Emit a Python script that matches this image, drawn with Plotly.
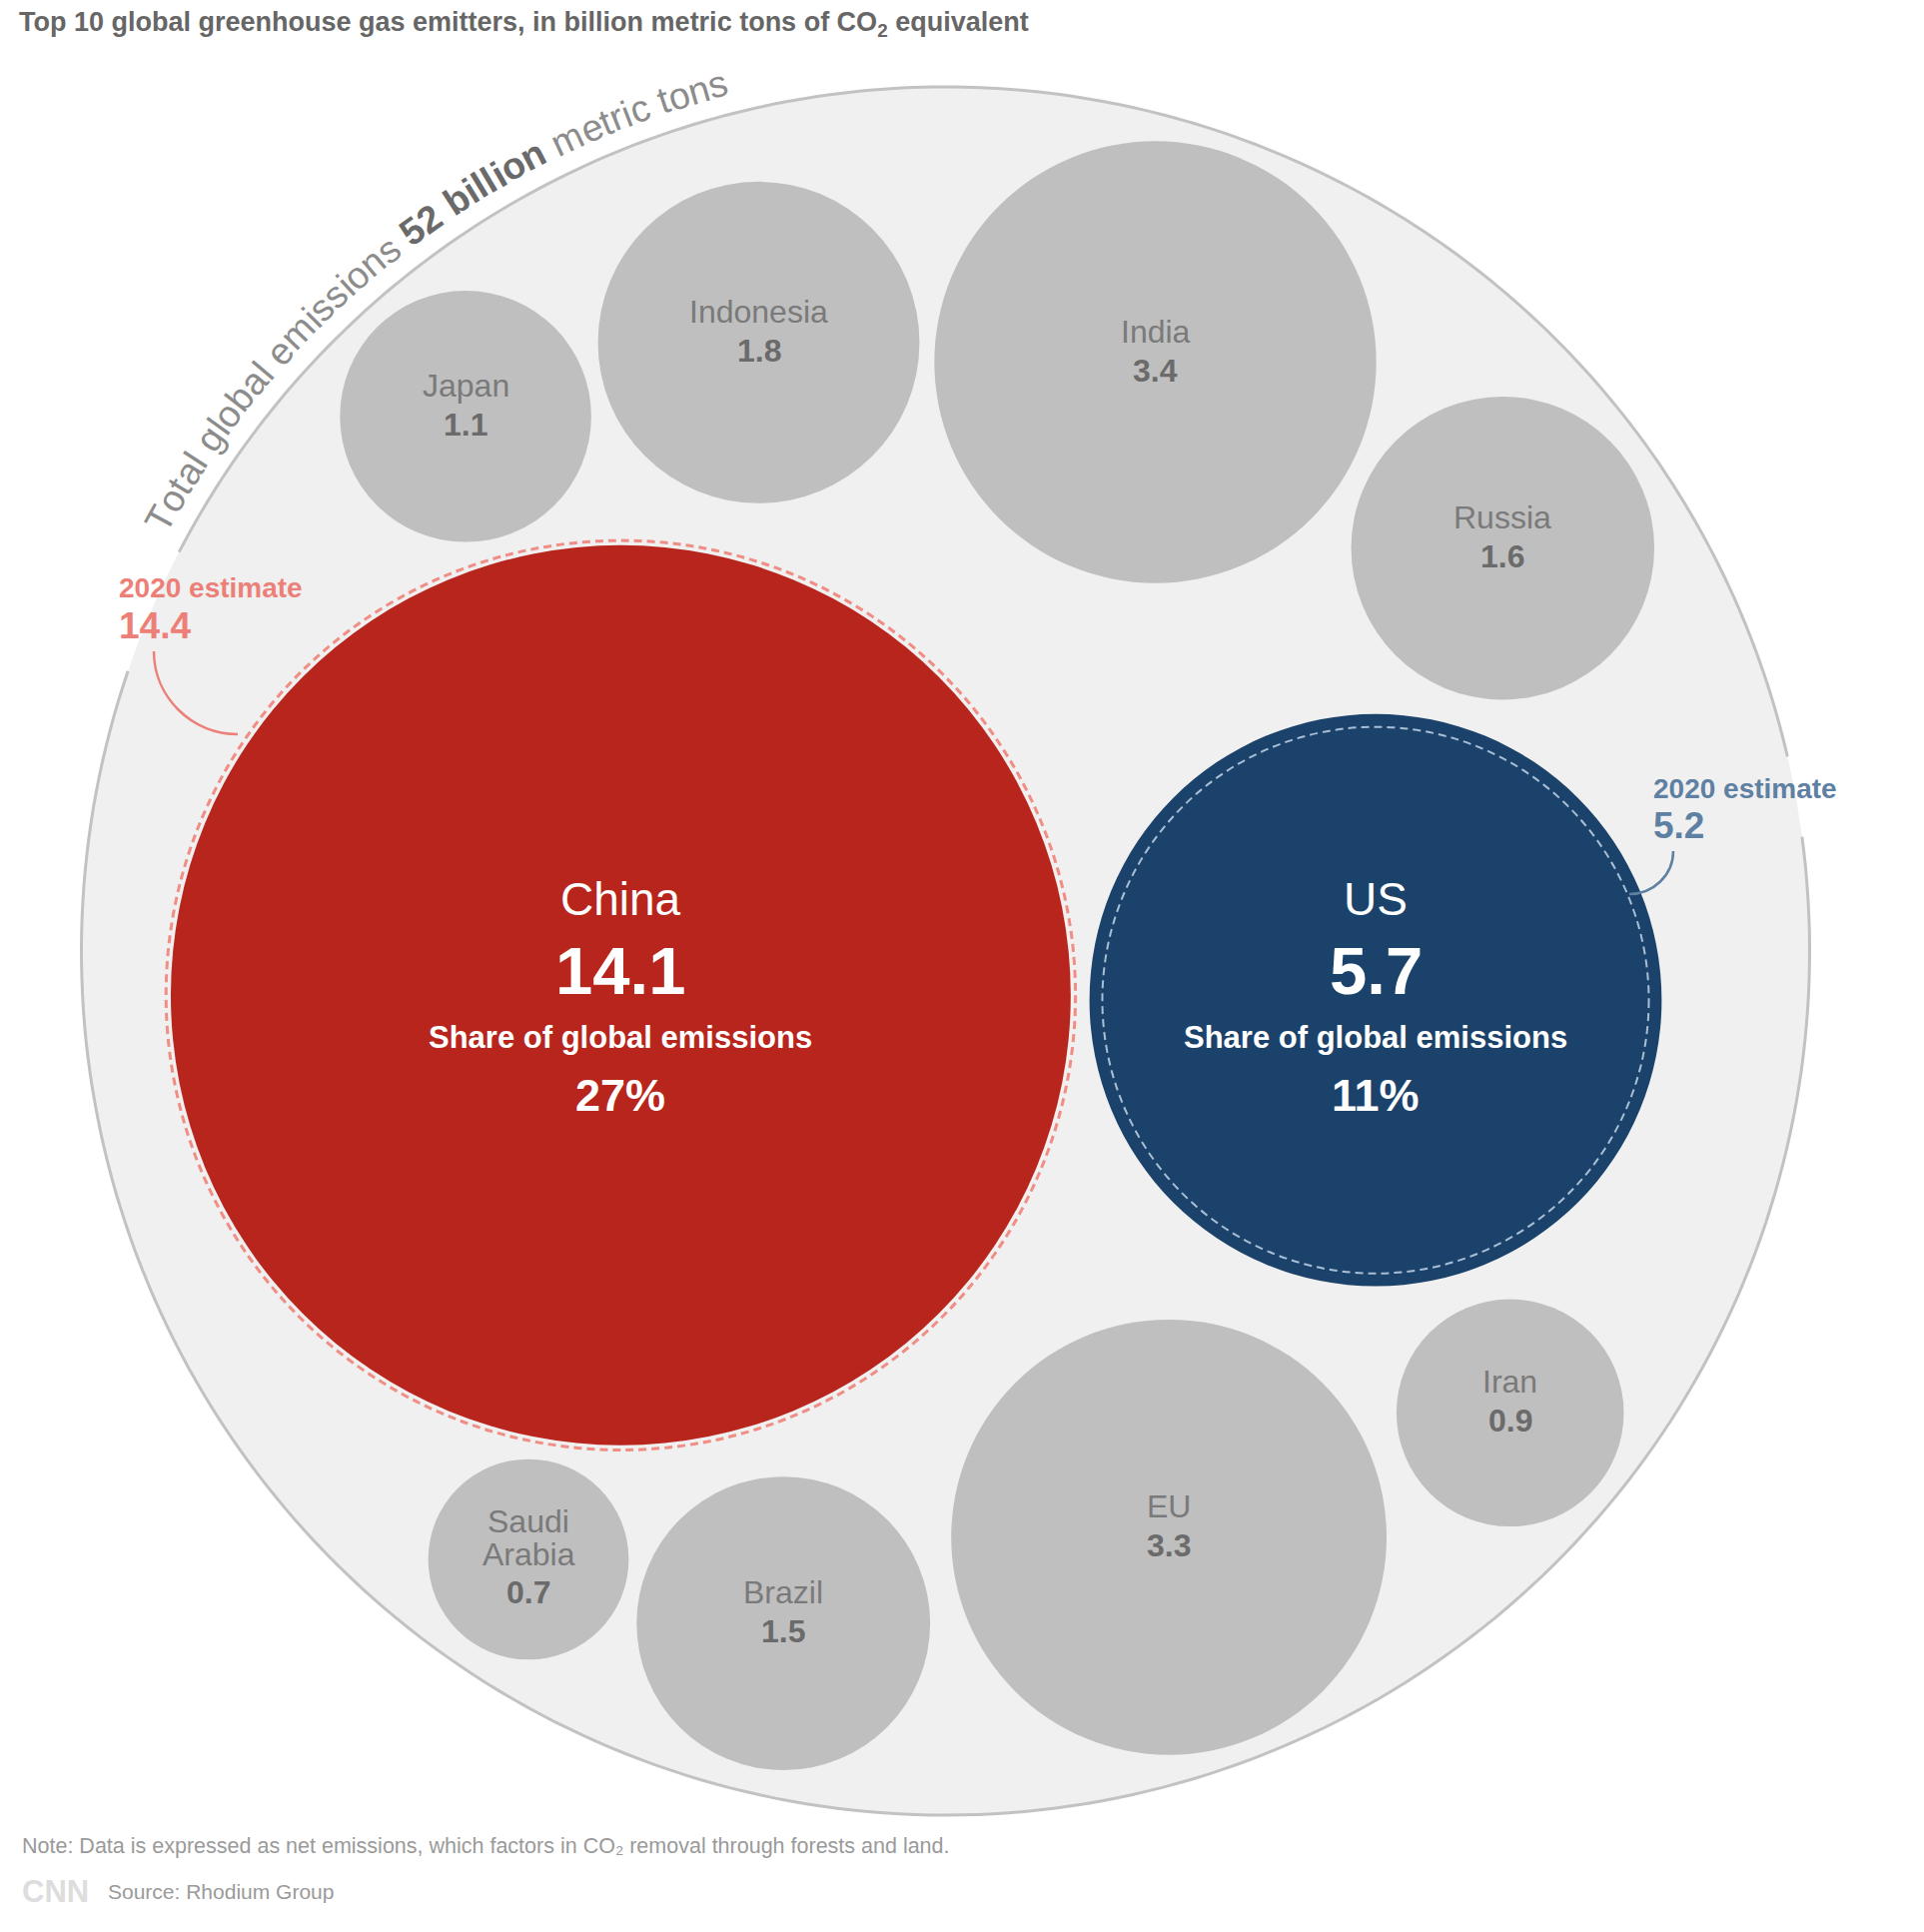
import numpy as np
import plotly.graph_objects as go

# ---------------- data ----------------
countries = ["China", "US", "India", "EU", "Indonesia", "Russia", "Brazil", "Japan", "Iran", "Saudi\nArabia"]
emissions = [14.1, 5.7, 3.4, 3.3, 1.8, 1.6, 1.5, 1.1, 0.9, 0.7]
total_emissions = 52
estimate_countries = ["China", "US"]
estimate_2020 = [14.4, 5.2]
share_pct = [27, 11]

title_text = "Top 10 global greenhouse gas emitters, in billion metric tons of CO<sub>2</sub> equivalent"
note_text = "Note: Data is expressed as net emissions, which factors in CO₂ removal through forests and land."
source_text = "Source: Rhodium Group"
arc_segments = [("Total global emissions ", False), (f"{total_emissions} billion", True), (" metric tons", False)]

# ---------------- layout (pack positions in px) ----------------
W, H = 1926, 1934
OUT_CX, OUT_CY, OUT_R = 946.5, 952.0, 865.0
K = OUT_R / np.sqrt(total_emissions)          # px per sqrt(unit)
bubble_cx = [621.4, 1377.0, 1156.5, 1170.1, 759.5, 1504.3, 784.2, 466.1, 1511.7, 529.0]
bubble_cy = [996.3, 1001.2, 362.5, 1538.8, 342.8, 548.7, 1625.1, 416.8, 1414.3, 1561.0]
hero_dy = [0, -5]   # vertical nudge of the big-bubble text blocks

RED, NAVY, GRAY_B = "#b8251c", "#1b426a", "#bfbfbf"
SALMON, STEEL = "#ec8078", "#5e80a3"
FONT = "Liberation Sans, Arial, sans-serif"
NARROW = "Liberation Sans Narrow, Arial Narrow, Liberation Sans, sans-serif"


def radius(v):
    return K * np.sqrt(v)


def circle(cx, cy, r, fill, line_color=None, width=0, dash=None):
    return dict(type="circle", xref="x", yref="y", x0=cx - r, x1=cx + r, y0=cy - r, y1=cy + r,
                fillcolor=fill, layer="above",
                line=dict(color=line_color or "rgba(0,0,0,0)", width=width, dash=dash or "solid"))


shapes = []
annotations = []

# outer circle fill
shapes.append(circle(OUT_CX, OUT_CY, OUT_R, "#f0f0f0"))


# outer ring stroke with gaps behind estimate labels
def arc_path(a0, a1, r):
    angs = np.radians(np.linspace(a0, a1, 200))
    xs = OUT_CX + r * np.cos(angs)
    ys = OUT_CY - r * np.sin(angs)
    return "M" + " L".join(f"{x:.1f},{y:.1f}" for x, y in zip(xs, ys))


for a0, a1 in [(13.0, 152.5), (161.1, 367.6)]:
    shapes.append(dict(type="path", xref="x", yref="y", path=arc_path(a0, a1, OUT_R),
                       line=dict(color="#c2c2c2", width=3), layer="above"))

# bubbles
for i, (c, v) in enumerate(zip(countries, emissions)):
    cx, cy, r = bubble_cx[i], bubble_cy[i], radius(v)
    if c == "China":
        shapes.append(circle(cx, cy, r, RED))
    elif c == "US":
        shapes.append(circle(cx, cy, r, NAVY))
    else:
        shapes.append(circle(cx, cy, r, GRAY_B))

# dashed 2020 estimate circles
for c, v in zip(estimate_countries, estimate_2020):
    i = countries.index(c)
    col = "#f08d85" if c == "China" else "#a9bfd5"
    wd = 3 if c == "China" else 2
    shapes.append(circle(bubble_cx[i], bubble_cy[i], radius(v), "rgba(0,0,0,0)", col, wd, "8px,5px"))

# labels inside bubbles
for i, (c, v) in enumerate(zip(countries, emissions)):
    cx, cy = bubble_cx[i], bubble_cy[i]
    if c in estimate_countries:
        j = estimate_countries.index(c)
        cy = cy + hero_dy[j]
        annotations += [
            dict(x=cx, y=cy - 96, text=c, font=dict(family=FONT, size=46, color="white")),
            dict(x=cx, y=cy - 25, text=f"<b>{v}</b>", font=dict(family=FONT, size=67, color="white")),
            dict(x=cx, y=cy + 42, text="<b>Share of global emissions</b>", font=dict(family=FONT, size=31, color="white")),
            dict(x=cx, y=cy + 100, text=f"<b>{share_pct[j]}%</b>", font=dict(family=FONT, size=45, color="white")),
        ]
    else:
        lines = c.split("\n")
        n = len(lines)
        for k, ln in enumerate(lines):
            annotations.append(dict(x=cx, y=cy - 31 - 33 * (n - 1 - k) + 26 * (n - 1), text=ln,
                                    font=dict(family=FONT, size=32, color="#7a7a7a")))
        annotations.append(dict(x=cx, y=cy + 8 + 25 * (n - 1), text=f"<b>{v}</b>",
                                font=dict(family=FONT, size=32, color="#6b6b6b")))

# 2020 estimate call-outs
est_pos = {"China": (117, 588, 626, SALMON), "US": (1653, 789, 826, STEEL)}
for c, v in zip(estimate_countries, estimate_2020):
    x, y1, y2, col = est_pos[c]
    annotations += [
        dict(x=x, y=y1, text="<b>2020 estimate</b>", xanchor="left", font=dict(family=FONT, size=28, color=col)),
        dict(x=x, y=y2, text=f"<b>{v}</b>", xanchor="left", font=dict(family=FONT, size=37, color=col)),
    ]

# connectors
shapes.append(dict(type="path", xref="x", yref="y", layer="above",
                   path="M154,652 C154,698 192,735 238,735", line=dict(color=SALMON, width=2.5)))
shapes.append(dict(type="path", xref="x", yref="y", layer="above",
                   path="M1675,852 C1675,876 1655,895 1631,895", line=dict(color=STEEL, width=2.5)))

# curved label along outer ring
W_REG = {"T": 611, "o": 556, "t": 278, "a": 556, "l": 222, "g": 556, "b": 556, "e": 556, "m": 833,
         "i": 222, "s": 500, "n": 556, "r": 333, "c": 500, " ": 278, "5": 556, "2": 556}
W_BOLD = {"5": 556, "2": 556, " ": 278, "b": 611, "i": 278, "l": 278, "o": 611, "n": 611}
ARC_FS = 37.5
R_BASE = OUT_R + 19
R_MID = R_BASE + 0.35 * ARC_FS
theta0 = np.radians(151.9)
s = 0.0
for txt, bold in arc_segments:
    for ch in txt:
        w = (W_BOLD if bold else W_REG).get(ch, 556) / 1000 * ARC_FS
        if ch != " ":
            th = theta0 - (s + w / 2) / R_BASE
            x = OUT_CX + R_MID * np.cos(th)
            y = OUT_CY - R_MID * np.sin(th)
            annotations.append(dict(x=x, y=y, text=f"<b>{ch}</b>" if bold else ch,
                                    textangle=90 - np.degrees(th),
                                    font=dict(family=FONT, size=ARC_FS, color="#6a6a6a" if bold else "#8c8c8c")))
        s += w

for a in annotations:
    a.setdefault("xref", "x")
    a.setdefault("yref", "y")
    a.setdefault("showarrow", False)
    a.setdefault("xanchor", "center")
    a.setdefault("yanchor", "middle")

# title and footer (paper coords)
annotations += [
    dict(xref="paper", yref="paper", x=17 / W, y=1 - 24 / H, xanchor="left", yanchor="middle", showarrow=False,
         text=f"<b>{title_text}</b>", font=dict(family=NARROW, size=27, color="#666666")),
    dict(xref="paper", yref="paper", x=20 / W, y=1 - 1848 / H, xanchor="left", yanchor="middle", showarrow=False,
         text=note_text, font=dict(family=NARROW, size=21.5, color="#9a9a9a")),
    dict(xref="paper", yref="paper", x=106 / W, y=1 - 1893 / H, xanchor="left", yanchor="middle", showarrow=False,
         text=source_text, font=dict(family=NARROW, size=21, color="#9a9a9a")),
    dict(xref="paper", yref="paper", x=20 / W, y=1 - 1893 / H, xanchor="left", yanchor="middle", showarrow=False,
         text="<b>CNN</b>", font=dict(family=NARROW, size=31, color="#dddddd")),
]

fig = go.Figure()
fig.add_trace(go.Scatter(x=[0, W], y=[0, H], mode="markers", marker=dict(opacity=0), hoverinfo="skip",
                         showlegend=False))
fig.update_layout(
    width=W, height=H, margin=dict(l=0, r=0, t=0, b=0),
    paper_bgcolor="white", plot_bgcolor="white",
    xaxis=dict(range=[0, W], visible=False, fixedrange=True),
    yaxis=dict(range=[H, 0], visible=False, fixedrange=True),
    shapes=shapes, annotations=annotations, showlegend=False,
)
fig.write_html("out.html", config={"displayModeBar": False})
